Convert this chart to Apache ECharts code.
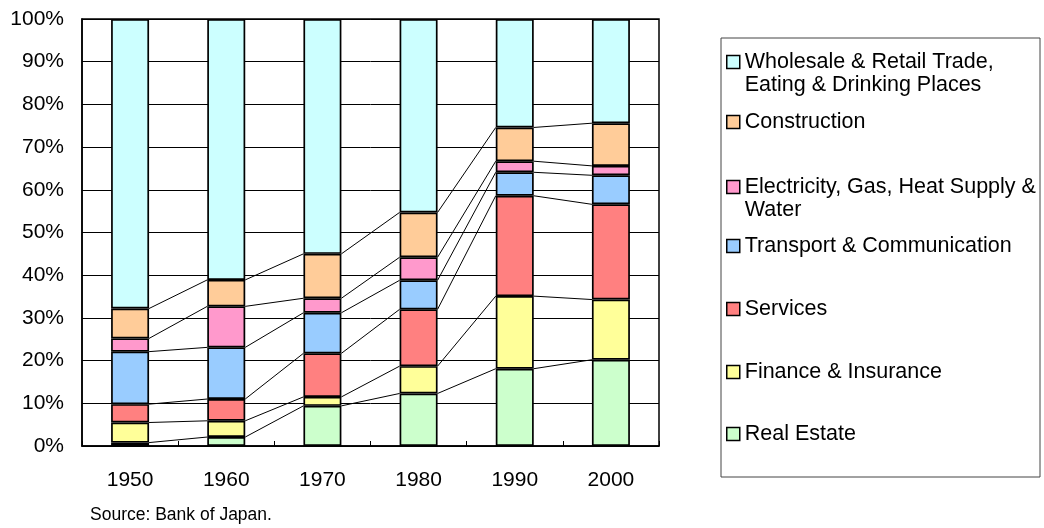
<!DOCTYPE html>
<html>
<head>
<meta charset="utf-8">
<script src="https://cdn.jsdelivr.net/npm/echarts@6/dist/echarts.min.js"></script>
<style>html,body{margin:0;padding:0;background:#fff;}#c{width:1044px;height:528px;}</style>
</head>
<body>
<div id="c"></div>
<script>
const years = ['1950', '1960', '1970', '1980', '1990', '2000'];
const realEstate   = [0.8, 2.1, 9.4, 12.3, 18.1, 20.2];
const finance      = [4.7, 3.8, 2.1, 6.4, 17.0, 14.1];
const services     = [4.3, 5.1, 10.2, 13.3, 23.5, 22.3];
const transport    = [12.3, 12.1, 9.5, 6.8, 5.5, 6.8];
const electricity  = [3.1, 9.6, 3.4, 5.4, 2.6, 2.2];
const construction = [7.0, 6.2, 10.4, 10.5, 7.9, 10.0];
const wholesale    = [67.8, 61.1, 55.0, 45.3, 25.4, 24.4];

const seriesNames = ['Real Estate', 'Finance & Insurance', 'Services', 'Transport & Communication',
  'Electricity, Gas, Heat Supply & Water', 'Construction', 'Wholesale & Retail Trade, Eating & Drinking Places'];
const seriesData = [realEstate, finance, services, transport, electricity, construction, wholesale];
const colors = ['#CCFFCC', '#FFFF99', '#FF8080', '#99CCFF', '#FF99CC', '#FFCC99', '#CCFFFF'];
// leading blank line keeps the marker beside the first text line
const legendLabels = {
  'Wholesale & Retail Trade, Eating & Drinking Places': '\nWholesale & Retail Trade,\nEating & Drinking Places',
  'Electricity, Gas, Heat Supply & Water': '\nElectricity, Gas, Heat Supply &\nWater'
};

const FONT = 'Liberation Sans, Arial, sans-serif';
const BAR_FRAC = 0.395;
const LH = 23;

// cumulative tops for connector lines
const cum = [];
let running = years.map(() => 0);
seriesData.forEach(arr => {
  running = running.map((v, i) => v + arr[i]);
  cum.push(running.slice());
});
const connectorData = [];
for (let k = 0; k < cum.length - 1; k++) {
  for (let i = 0; i < years.length - 1; i++) {
    connectorData.push([i, cum[k][i], cum[k][i + 1]]);
  }
}

const barSeries = seriesNames.map((name, k) => ({
  name: name,
  type: 'bar',
  stack: 'total',
  barWidth: (BAR_FRAC * 100) + '%',
  data: seriesData[k],
  itemStyle: { color: colors[k], borderColor: '#000', borderWidth: 1.7 },
  z: 3
}));

const legendTops = {
  'Wholesale & Retail Trade, Eating & Drinking Places': 27.5,
  'Construction': 110.5,
  'Electricity, Gas, Heat Supply & Water': 152.5,
  'Transport & Communication': 234.5,
  'Services': 297.5,
  'Finance & Insurance': 360.5,
  'Real Estate': 422.5
};
const legends = seriesNames.slice().reverse().map(name => ({
  data: [name],
  left: 726,
  top: legendTops[name],
  padding: 0,
  itemWidth: 13,
  itemHeight: 13,
  icon: 'rect',
  itemStyle: { borderColor: '#000', borderWidth: 1.5 },
  selectedMode: false,
  formatter: n => legendLabels[n] || n,
  textStyle: { fontFamily: FONT, fontSize: 21.5, color: '#000', lineHeight: LH }
}));

const chart = echarts.init(document.getElementById('c'), null, { renderer: 'canvas' });
chart.setOption({
  animation: false,
  backgroundColor: '#fff',
  grid: { left: 82, right: 385, top: 19, bottom: 82, show: true, borderColor: '#000', borderWidth: 1.5, backgroundColor: 'transparent' },
  legend: legends,
  xAxis: {
    type: 'category',
    data: years,
    boundaryGap: true,
    axisLine: { lineStyle: { color: '#000', width: 1.5 } },
    axisTick: { show: true, inside: true, length: 5, interval: 0, lineStyle: { color: '#000' } },
    axisLabel: { fontFamily: FONT, fontSize: 21, color: '#000', margin: 24 }
  },
  yAxis: {
    type: 'value',
    min: 0,
    max: 100,
    interval: 10,
    axisLine: { show: true, lineStyle: { color: '#000', width: 1.5 } },
    axisTick: { show: true, inside: true, length: 6, lineStyle: { color: '#000' } },
    splitLine: { show: true, lineStyle: { color: '#000', width: 1 } },
    axisLabel: { fontFamily: FONT, fontSize: 21, color: '#000', margin: 18, formatter: '{value}%' }
  },
  graphic: [
    { type: 'rect', shape: { x: 721, y: 38, width: 319, height: 439 }, style: { fill: 'none', stroke: '#444', lineWidth: 1 }, z: 0 },
    { type: 'text', left: 90, top: 506, style: { text: 'Source: Bank of Japan.', font: '17.5px ' + FONT, fill: '#000' } }
  ],
  series: barSeries.concat([{
    type: 'custom',
    name: 'connectors',
    data: connectorData,
    z: 2,
    silent: true,
    encode: { x: 0, y: 1 },
    renderItem: function (params, api) {
      const i = api.value(0);
      const p1 = api.coord([i, api.value(1)]);
      const p2 = api.coord([i + 1, api.value(2)]);
      const half = api.size([1, 0])[0] * BAR_FRAC / 2;
      return {
        type: 'line',
        shape: { x1: p1[0] + half, y1: p1[1], x2: p2[0] - half, y2: p2[1] },
        style: { stroke: '#000', lineWidth: 1 }
      };
    }
  }])
});
</script>
</body>
</html>
